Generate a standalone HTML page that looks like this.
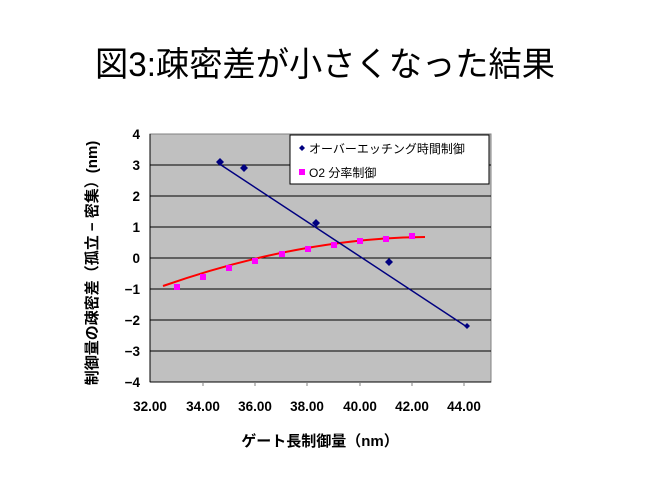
<!DOCTYPE html>
<html><head><meta charset="utf-8"><style>
body{margin:0;background:#fff;}
svg text{font-family:"Liberation Sans","Noto Sans CJK JP",sans-serif;}
</style></head><body>
<svg width="651" height="489" xmlns="http://www.w3.org/2000/svg">
<text x="325" y="76" font-size="34" text-anchor="middle" fill="#000" textLength="460" lengthAdjust="spacingAndGlyphs">図3:疎密差が小さくなった結果</text>
<rect x="150" y="134" width="341" height="248" fill="#c0c0c0" stroke="#808080"/>
<g stroke="#000" stroke-width="1">
<line x1="150" y1="165" x2="491" y2="165"/><line x1="150" y1="196" x2="491" y2="196"/>
<line x1="150" y1="227" x2="491" y2="227"/><line x1="150" y1="258" x2="491" y2="258"/>
<line x1="150" y1="289" x2="491" y2="289"/><line x1="150" y1="320" x2="491" y2="320"/>
<line x1="150" y1="351" x2="491" y2="351"/>
<line x1="150" y1="134" x2="150" y2="382"/><line x1="150" y1="382" x2="491" y2="382"/>
</g>
<g stroke="#808080"><line x1="203" y1="382" x2="203" y2="386"/><line x1="255" y1="382" x2="255" y2="386"/><line x1="307" y1="382" x2="307" y2="386"/><line x1="360" y1="382" x2="360" y2="386"/><line x1="412" y1="382" x2="412" y2="386"/><line x1="464" y1="382" x2="464" y2="386"/></g>
<g font-size="13.5" font-weight="bold" text-anchor="end">
<text x="140" y="139">4</text><text x="140" y="170">3</text><text x="140" y="201">2</text><text x="140" y="232">1</text><text x="140" y="263">0</text><text x="140" y="294">−1</text><text x="140" y="325">−2</text><text x="140" y="356">−3</text><text x="140" y="387">−4</text>
</g>
<g font-size="13.5" font-weight="bold" text-anchor="middle">
<text x="150" y="411">32.00</text><text x="203" y="411">34.00</text><text x="255" y="411">36.00</text><text x="307" y="411">38.00</text><text x="360" y="411">40.00</text><text x="412" y="411">42.00</text><text x="464" y="411">44.00</text>
</g>
<path d="M163,286 Q300,238 425,237" stroke="#ff0000" stroke-width="2" fill="none"/>
<line x1="218" y1="163" x2="467" y2="327" stroke="#000080" stroke-width="1.5"/>
<g fill="#ff00ff">
<rect x="174" y="284" width="6" height="6"/><rect x="200" y="274" width="6" height="6"/><rect x="226" y="265" width="6" height="6"/><rect x="252" y="258" width="6" height="6"/><rect x="279" y="251" width="6" height="6"/><rect x="305" y="246" width="6" height="6"/><rect x="331" y="242" width="6" height="6"/><rect x="357" y="238" width="6" height="6"/><rect x="383" y="236" width="6" height="6"/><rect x="409" y="233" width="6" height="6"/>
</g>
<g fill="#000080">
<path d="M220,158 l4,4 l-4,4 l-4,-4z"/><path d="M244,164 l4,4 l-4,4 l-4,-4z"/><path d="M316,219 l4,4 l-4,4 l-4,-4z"/><path d="M389,258 l4,4 l-4,4 l-4,-4z"/><path d="M467,323 l3,3 l-3,3 l-3,-3z"/>
</g>
<rect x="290" y="135" width="199" height="49" fill="#fff" stroke="#000"/>
<path d="M302,145 l3,3 l-3,3 l-3,-3z" fill="#000080"/>
<text x="309" y="153" font-size="12">オーバーエッチング時間制御</text>
<rect x="299" y="169" width="6" height="6" fill="#ff00ff"/>
<text x="309" y="177" font-size="12">O2 分率制御</text>
<text transform="translate(97,263) rotate(-90)" font-size="15" font-weight="bold" text-anchor="middle">制御量の疎密差（孤立 − 密集）(nm)</text>
<text x="320" y="446" font-size="15" font-weight="bold" text-anchor="middle">ゲート長制御量（nm）</text>
</svg>
</body></html>
